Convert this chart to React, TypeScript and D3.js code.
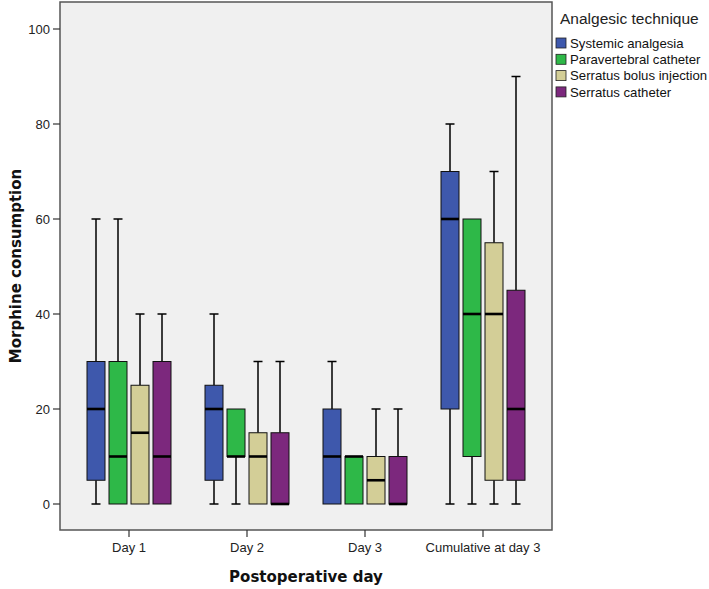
import React from "react";
import * as d3 from "d3";

const categories = ["Day 1", "Day 2", "Day 3", "Cumulative at day 3"];
const groups = ["Systemic analgesia", "Paravertebral catheter", "Serratus bolus injection", "Serratus catheter"];
const colors = ["#3E58AC", "#2EB848", "#D3CE97", "#7C287D"];
// each entry: [lower whisker, q1, median, q3, upper whisker]
const systemic = [[0, 5, 20, 30, 60], [0, 5, 20, 25, 40], [0, 0, 10, 20, 30], [0, 20, 60, 70, 80]];
const paravertebral = [[0, 0, 10, 30, 60], [0, 10, 10, 20, 20], [0, 0, 10, 10, 10], [0, 10, 40, 60, 60]];
const serratusBolus = [[0, 0, 15, 25, 40], [0, 0, 10, 15, 30], [0, 0, 5, 10, 20], [0, 5, 40, 55, 70]];
const serratusCatheter = [[0, 0, 10, 30, 40], [0, 0, 0, 15, 30], [0, 0, 0, 10, 20], [0, 5, 20, 45, 90]];
const seriesValues = [systemic, paravertebral, serratusBolus, serratusCatheter];
const yTicks = [0, 20, 40, 60, 80, 100];

export default function App() {
  const W = 709, H = 589;
  const left = 60, right = 552, top = 2, bottom = 530;
  const x = d3.scaleBand<string>().domain(categories).range([70, 542]).padding(0);
  const xi = d3.scaleBand<string>().domain(groups).range([-44, 44]).paddingInner(4 / 22).paddingOuter(2 / 22);
  const y = d3.scaleLinear().domain([0, 100]).range([504, 29]);
  const bw = xi.bandwidth();
  const font = "'Liberation Sans', Arial, sans-serif";

  return (
    <svg width={W} height={H} style={{ position: "absolute", left: 0, top: 0, background: "#fff" }}>
      <rect x={left} y={top} width={right - left} height={bottom - top} fill="#F0F0F0" stroke="#555" strokeWidth={1.5} />
      {/* y axis ticks */}
      {yTicks.map((t) => (
        <g key={t}>
          <line x1={left - 7} x2={left} y1={y(t)} y2={y(t)} stroke="#333" strokeWidth={1.2} />
          <text x={left - 10} y={y(t)} dy="0.35em" textAnchor="end" fontSize={13} fontFamily={font} fill="#222">{t}</text>
        </g>
      ))}
      {/* x axis ticks */}
      {categories.map((c) => {
        const cx = (x(c) as number) + x.bandwidth() / 2;
        return (
          <g key={c}>
            <line x1={cx} x2={cx} y1={bottom} y2={bottom + 7} stroke="#333" strokeWidth={1.2} />
            <text x={cx} y={bottom + 22} textAnchor="middle" fontSize={13} fontFamily={font} fill="#222">{c}</text>
          </g>
        );
      })}
      {/* boxes */}
      {seriesValues.map((series, gi) =>
        series.map((v, ci) => {
          const cx = (x(categories[ci]) as number) + x.bandwidth() / 2 + (xi(groups[gi]) as number) + bw / 2;
          const [lo, q1, med, q3, hi] = v;
          const x0 = cx - bw / 2;
          return (
            <g key={gi + "-" + ci}>
              {hi > q3 && (
                <>
                  <line x1={cx} x2={cx} y1={y(q3)} y2={y(hi)} stroke="#000" strokeWidth={1.5} />
                  <line x1={cx - bw / 4} x2={cx + bw / 4} y1={y(hi)} y2={y(hi)} stroke="#000" strokeWidth={1.5} />
                </>
              )}
              {lo < q1 && (
                <>
                  <line x1={cx} x2={cx} y1={y(q1)} y2={y(lo)} stroke="#000" strokeWidth={1.5} />
                  <line x1={cx - bw / 4} x2={cx + bw / 4} y1={y(lo)} y2={y(lo)} stroke="#000" strokeWidth={1.5} />
                </>
              )}
              <rect x={x0} y={y(q3)} width={bw} height={y(q1) - y(q3)} fill={colors[gi]} stroke="#111" strokeWidth={1} />
              <line x1={x0} x2={x0 + bw} y1={y(med)} y2={y(med)} stroke="#000" strokeWidth={2.6} />
            </g>
          );
        })
      )}
      {/* axis titles */}
      <text x={(left + right) / 2} y={582} textAnchor="middle" fontSize={15} fontWeight="bold" fontFamily="'DejaVu Sans', Verdana, sans-serif" fill="#111">Postoperative day</text>
      <text transform={`translate(21,${(top + bottom) / 2}) rotate(-90)`} textAnchor="middle" fontSize={15} fontWeight="bold" fontFamily="'DejaVu Sans', Verdana, sans-serif" fill="#111">Morphine consumption</text>
      {/* legend */}
      <text x={560} y={24} fontSize={15.5} fontFamily={font} fill="#222">Analgesic technique</text>
      {groups.map((g, i) => (
        <g key={g} transform={`translate(556,${38 + i * 16.3})`}>
          <rect x={0} y={0} width={10} height={10} fill={colors[i]} stroke="#222" strokeWidth={0.8} />
          <text x={14} y={5} dy="0.35em" fontSize={13.2} fontFamily={font} fill="#111">{g}</text>
        </g>
      ))}
    </svg>
  );
}
